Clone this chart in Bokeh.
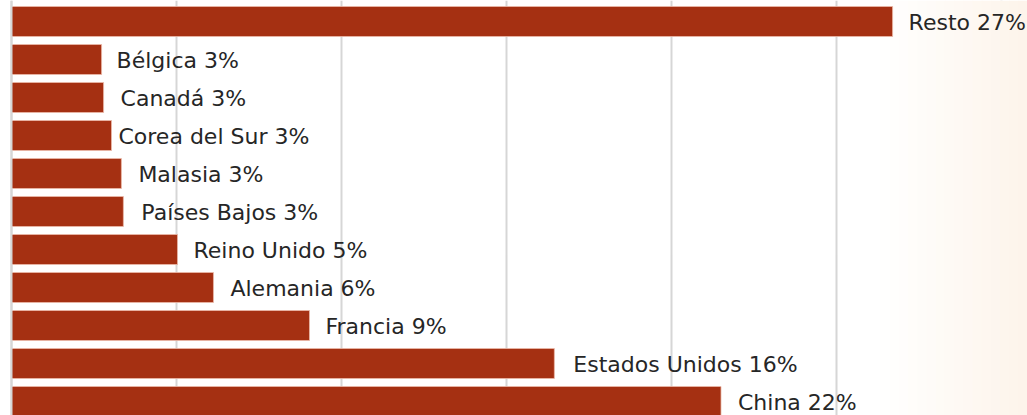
from bokeh.plotting import figure
from bokeh.models import Range1d, FixedTicker, Span, BoxAnnotation, ColumnDataSource
from bokeh.core.properties import value
from bokeh.embed import file_html
from bokeh.resources import INLINE
import numpy as np

# ---- data (top to bottom) ----
categories = ["Resto", "Bélgica", "Canadá", "Corea del Sur", "Malasia", "Países Bajos",
              "Reino Unido", "Alemania", "Francia", "Estados Unidos", "China"]
shares = [26.7, 2.73, 2.79, 3.03, 3.33, 3.39, 5.03, 6.12, 9.03, 16.45, 21.5]
label_pct = [27, 3, 3, 3, 3, 3, 5, 6, 9, 16, 22]
grid_ticks = [0, 5, 10, 15, 20, 25, 30]

# ---- layout / style ----
W, H = 1027, 415
px_per_unit = 33.0
x0_px = 11
row_px = 38.0
first_center_px = 21
label_gap = [16, 15, 17, 7, 17, 18, 16, 17, 16, 19, 17]

rows = np.arange(len(categories))
labels = [f"{c} {v}%" for c, v in zip(categories, label_pct)]
src = ColumnDataSource(dict(y=rows, v=shares, lab=labels, gap=label_gap))

p = figure(width=W, height=H,
           x_range=Range1d(-x0_px / px_per_unit, (W - x0_px) / px_per_unit),
           y_range=Range1d((H - first_center_px) / row_px, -first_center_px / row_px),
           output_backend="svg", toolbar_location=None, min_border=0)
p.outline_line_color = None
p.xaxis.visible = False
p.yaxis.visible = False
p.ygrid.visible = False
p.xgrid.ticker = FixedTicker(ticks=grid_ticks)
p.xgrid.grid_line_color = "#D6D6D6"
p.xgrid.grid_line_width = 2
p.background_fill_color = "white"
p.border_fill_color = "white"

# faint warm gradient at right edge
n = 16
gx0 = 880
for k in range(n):
    t = (k + 0.5) / n
    r = int(round(255 - 2 * t)); g = int(round(255 - 11 * t)); b = int(round(255 - 21 * t))
    left = gx0 + (W - gx0) * k / n
    right = gx0 + (W - gx0) * (k + 1) / n
    p.add_layout(BoxAnnotation(left=left, right=right + 1, left_units="screen", right_units="screen",
                               fill_color=f"#{r:02x}{g:02x}{b:02x}", fill_alpha=1.0,
                               line_color=None, level="underlay"))

p.hbar(y="y", left=0, right="v", height=30 / row_px, source=src,
       fill_color="#A53012", line_color="#EBB9A8", line_width=0.8)

p.add_layout(Span(location=0, dimension="height", line_color="#D6D6D6", line_width=2))

p.text(x="v", y="y", text="lab", source=src, x_offset="gap", y_offset=1,
       text_font=value("DejaVu Sans"), text_font_size="22px", text_color="#262626",
       text_baseline="middle", text_align="left")

html = file_html(p, INLINE)
html = html.replace("</head>", "<style>html,body{margin:0;padding:0;overflow:hidden;}</style></head>", 1)
open("out.html", "w").write(html)
